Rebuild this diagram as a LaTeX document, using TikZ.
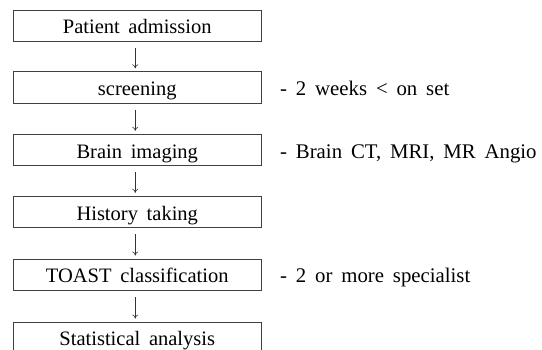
\documentclass[tikz,border=0pt]{standalone}
\usepackage{fontspec}
\setmainfont[WordSpace=1.7]{Liberation Serif}
\usetikzlibrary{arrows.meta}
\begin{document}
\begin{tikzpicture}[x=1pt,y=-1pt,
  stepbox/.style={draw=black!75,line width=0.9pt,minimum width=248.5pt,minimum height=31.5pt,inner sep=0pt,text height=17.4pt,text depth=1pt,font=\fontsize{20.5}{24}\selectfont},
  note/.style={anchor=west,inner sep=0pt,text height=17.4pt,text depth=1pt,font=\fontsize{20.8}{24}\selectfont},
  flow/.style={draw=black!80,line width=0.6pt,-{To[length=4pt,width=6pt]},shorten <=6pt,shorten >=3pt}]
\useasboundingbox (0,0) rectangle (542,349);
\node[stepbox] (a) at (137.25,25.7) {Patient admission};
\node[stepbox] (b) at (137.25,87.5) {screening};
\node[stepbox] (c) at (137.25,150) {Brain imaging};
\node[stepbox] (d) at (137.25,212) {History taking};
\node[stepbox] (e) at (137.25,274.7) {TOAST classification};
\node[stepbox] (f) at (137.25,337.7) {Statistical analysis};
\foreach \u/\v in {a/b,b/c,c/d,d/e,e/f}
  \draw[flow] ([xshift=-2pt]\u.south) -- ([xshift=-2pt]\v.north);
\node[note] (nb) at (280,87.5) {- 2 weeks < on set};
\node[note] (nc) at (280,150) {- Brain CT, MRI, MR Angio};
\node[note] (ne) at (280,274.7) {- 2 or more specialist};
\end{tikzpicture}
\end{document}
